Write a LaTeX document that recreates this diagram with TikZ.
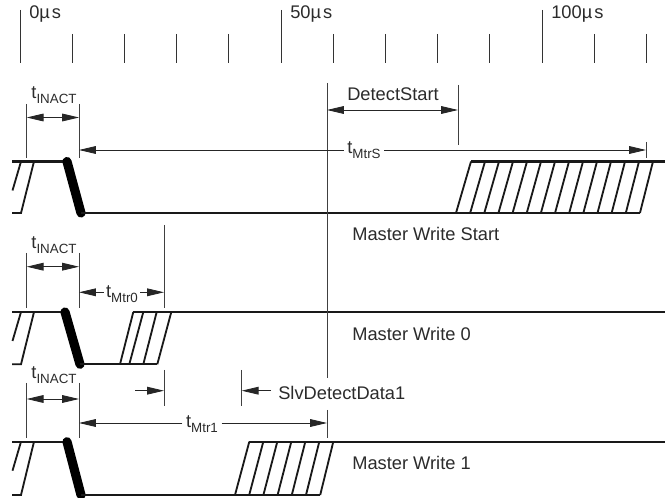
\documentclass[tikz,border=0pt]{standalone}
\usepackage{fontspec}
\setmainfont{Liberation Sans}
\usetikzlibrary{arrows.meta}
\newcommand{\tsub}[2]{#1\raisebox{-0.55ex}{\fontsize{9.5}{10}\selectfont #2}}
\definecolor{inkgray}{HTML}{2B2B2B}
\tikzset{
  lbl/.style={font=\fontsize{13}{15}\selectfont, text=inkgray, inner sep=2.5pt},
  timetick/.style={draw=black!80, line width=0.6pt},
  guide/.style={draw=black!75, line width=0.6pt},
  dim/.style={draw=black!85, line width=0.6pt, -{Triangle[length=12pt,width=5.5pt]}},
  dimboth/.style={dim, {Triangle[length=12pt,width=5.5pt]}-{Triangle[length=12pt,width=5.5pt]}},
  signal/.style={draw=black!90, line width=1.6pt},
  slope/.style={draw=black!90, line width=1.3pt},
  fall/.style={draw=black, line width=6.5pt, line cap=round}
}

\begin{document}
\begin{tikzpicture}[x=0.025cm, y=-0.025cm]
  \useasboundingbox (0,0) rectangle (665,498);

  % Echelle de temps
  \foreach \i in {0,...,12} {
    \draw[timetick] ({20+52.2*\i},34) -- ({20+52.2*\i},63);
  }
  \foreach \i/\txt in {0/0, 5/50, 10/100} {
    \draw[timetick] ({20+52.2*\i},10) -- ({20+52.2*\i},34);
    \node[lbl, anchor=west] (time\i) at ({25.5+52.2*\i},14.5) {\txt µ\kern1.4pt s};
  }

  % Debut de trame, commun aux trois signaux
  \foreach \hi/\lo/\xa/\xb in {161.5/213/67/81, 312/364.3/65/80, 441.7/495/67/81} {
    \draw[signal] (12,\hi) -- (\xa,\hi);
    \draw[slope] (21,\hi) -- (12.5,{\hi+29});
    \draw[slope] (34,\hi) -- (21,\lo) -- (12,\lo);
    \draw[fall] (\xa,\hi) -- (\xb,\lo);
  }

  % Master Write Start
  \draw[signal] (81,213) -- (640,213);
  \draw[signal] (471,161.5) -- (665,161.5);
  \foreach \i in {0,...,13} {
    \draw[slope] ({456+14.15*\i},213) -- ({471+14*\i},161.5);
  }

  % Master Write 0
  \draw[signal] (80,364.3) -- (157.3,364.3);
  \draw[signal] (133.3,312) -- (665,312);
  \foreach \xa/\xb in {120/133.3, 129.3/143.3, 143.3/156.7, 157.3/171.3} {
    \draw[slope] (\xa,364.3) -- (\xb,312);
  }

  % Master Write 1
  \draw[signal] (81,495) -- (320,495);
  \draw[signal] (249.3,441.7) -- (665,441.7);
  \foreach \i in {0,...,6} {
    \draw[slope] ({235+14.2*\i},495) -- ({249.3+14*\i},441.7);
  }

  % Reperes verticaux
  \draw[guide] (327,83) -- (327,378);
  \draw[guide] (327,410) -- (327,438);
  \draw[guide] (458,85) -- (458,145);
  \draw[guide] (646,142) -- (646,158);
  \draw[guide] (164,225) -- (164,308);
  \draw[guide] (164,370) -- (164,405.7);
  \draw[guide] (241.7,370) -- (241.7,405.7);
  \foreach \ya/\yb in {104/158, 253/308, 383/438} {
    \draw[guide] (26.7,\ya) -- (26.7,\yb);
    \draw[guide] (79,\ya) -- (79,\yb);
  }

  % tINACT
  \foreach \name/\ya/\yb in {a/95.5/117.5, b/245.5/266.7, c/375.5/399} {
    \node[lbl] (inact\name) at (54,\ya) {\tsub{t}{INACT}};
    \coordinate (inact\name l) at (26.7,\yb);
    \coordinate (inact\name r) at (79,\yb);
    \draw[dimboth] (inact\name l) -- (inact\name r);
  }

  % DetectStart
  \coordinate (dsl) at (327,110);
  \coordinate (dsr) at (458,110);
  \draw[dimboth] (dsl) -- (dsr);
  \node[lbl] (ds) at (393,94) {DetectStart};

  % tMtrS
  \coordinate (mtrsl) at (79,150);
  \coordinate (mtrsr) at (646,150);
  \node[lbl] (mtrs) at (364,150.5) {\tsub{t}{MtrS}};
  \draw[dim] (mtrs.west |- mtrsl) -- (mtrsl);
  \draw[dim] (mtrs.east |- mtrsr) -- (mtrsr);

  % tMtr0
  \coordinate (mtr0l) at (79,292.3);
  \coordinate (mtr0r) at (164,292.3);
  \node[lbl, inner sep=1.5pt] (mtr0) at (122,294) {\tsub{t}{Mtr0}};
  \draw[dim] (mtr0.west |- mtr0l) -- (mtr0l);
  \draw[dim] (mtr0.east |- mtr0r) -- (mtr0r);

  % SlvDetectData1
  \coordinate (slva) at (135,390.7);
  \coordinate (slvb) at (164,390.7);
  \coordinate (slvc) at (271,390.7);
  \coordinate (slvd) at (241.7,390.7);
  \draw[dim] (slva) -- (slvb);
  \draw[dim] (slvc) -- (slvd);
  \node[lbl, anchor=west, inner sep=0pt] (slv) at (278,393) {SlvDetectData1};

  % tMtr1
  \coordinate (mtr1l) at (79,423);
  \coordinate (mtr1r) at (327,423);
  \node[lbl] (mtr1) at (202,424) {\tsub{t}{Mtr1}};
  \draw[dim] (mtr1.west |- mtr1l) -- (mtr1l);
  \draw[dim] (mtr1.east |- mtr1r) -- (mtr1r);

  % Noms des signaux
  \node[lbl, anchor=west, inner sep=0pt] (wstart) at (352,234) {Master Write Start};
  \node[lbl, anchor=west, inner sep=0pt] (wzero) at (352,334) {Master Write 0};
  \node[lbl, anchor=west, inner sep=0pt] (wone) at (352,463) {Master Write 1};
\end{tikzpicture}
\end{document}
